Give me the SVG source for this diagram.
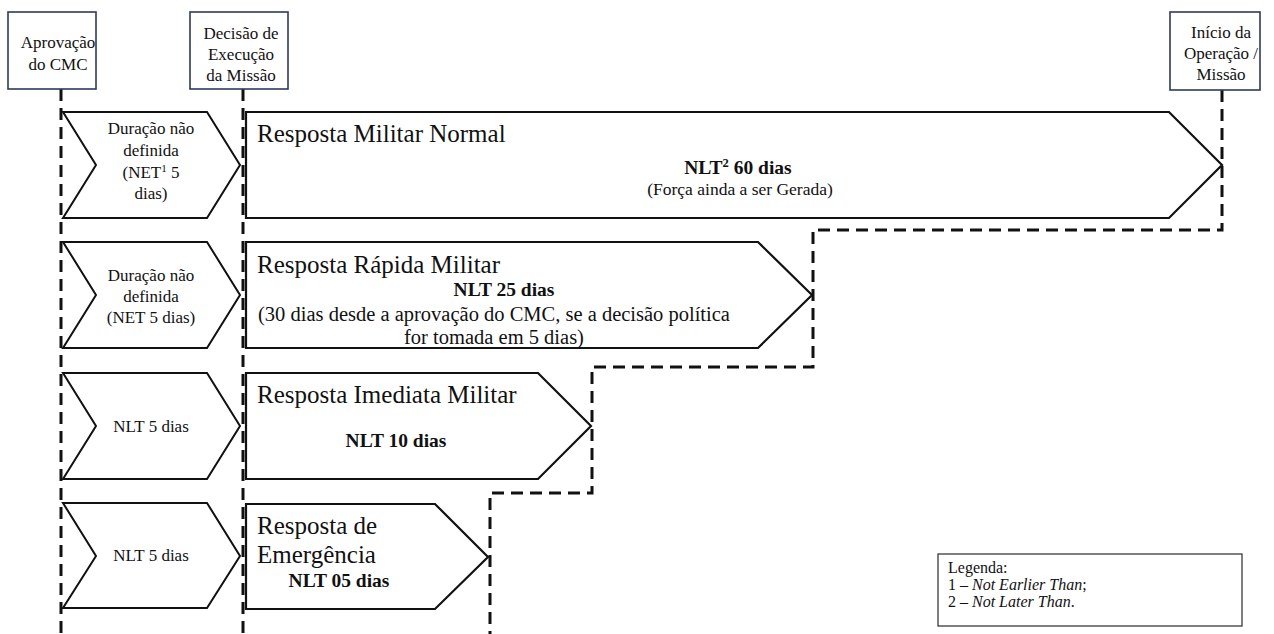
<svg xmlns="http://www.w3.org/2000/svg" width="1274" height="634" viewBox="0 0 1274 634">
<style>
  text { font-family: "Liberation Serif", "DejaVu Serif", serif; fill: #111; }
  .lbl { font-size: 17px; text-anchor: middle; }
  .chev { fill: #fff; stroke: #111; stroke-width: 2; stroke-linejoin: miter; }
  .arrow { fill: #fff; stroke: #111; stroke-width: 2.2; stroke-linejoin: miter; }
  .mbox { fill: #fff; stroke: #2e3a5c; stroke-width: 1.6; }
  .dash { fill: none; stroke: #111; stroke-width: 3; stroke-dasharray: 12 7; }
  .title { font-size: 25px; }
  .bold { font-size: 19.5px; font-weight: bold; text-anchor: middle; }
  .desc { font-size: 20.5px; text-anchor: middle; }
  .leg { font-size: 16px; }
</style>

<g id="connectors">
  <line class="dash" x1="61" y1="89" x2="61" y2="634"/>
  <line class="dash" x1="243" y1="89" x2="243" y2="634"/>
  <polyline class="dash" points="1222,90 1222,230 813,230 813,367 592,367 592,493 490,493 490,634"/>
</g>

<g font-family="Liberation Serif, DejaVu Serif, serif">
<g id="marco-aprovacao">
  <rect class="mbox" x="8" y="12" width="88" height="77"/>
  <text class="lbl" x="58" y="48">Aprovação</text>
  <text class="lbl" x="58" y="70">do CMC</text>
</g>
<g id="marco-decisao">
  <rect class="mbox" x="190" y="12" width="98" height="77"/>
  <text class="lbl" x="241" y="39">Decisão de</text>
  <text class="lbl" x="241" y="60">Execução</text>
  <text class="lbl" x="241" y="81">da Missão</text>
</g>
<g id="marco-inicio">
  <rect class="mbox" x="1170" y="12" width="90" height="78"/>
  <text class="lbl" x="1221" y="38">Início da</text>
  <text class="lbl" x="1221" y="59">Operação /</text>
  <text class="lbl" x="1221" y="80">Missão</text>
</g>

<g id="fase1-normal">
  <path class="chev" d="M63,112 L207,112 L240,165 L207,218 L63,218 L96,165 Z"/>
  <text class="lbl" x="151" y="134">Duração não</text>
  <text class="lbl" x="151" y="156">definida</text>
  <text class="lbl" x="151" y="178">(NET<tspan font-size="11" dy="-6">1</tspan><tspan dy="6"> 5</tspan></text>
  <text class="lbl" x="151" y="199">dias)</text>
</g>
<g id="resposta-normal">
  <path class="arrow" d="M246,112 L1169,112 L1222,165 L1169,218 L246,218 Z"/>
  <text class="title" x="257" y="142">Resposta Militar Normal</text>
  <text class="bold" x="738" y="174">NLT<tspan font-size="12.5" dy="-7">2</tspan><tspan dy="7"> 60 dias</tspan></text>
  <text class="desc" x="740" y="195" style="font-size:17.5px">(Força ainda a ser Gerada)</text>
</g>

<g id="fase1-rapida">
  <path class="chev" d="M63,242 L207,242 L240,295 L207,348 L63,348 L96,295 Z"/>
  <text class="lbl" x="151" y="281">Duração não</text>
  <text class="lbl" x="151" y="302">definida</text>
  <text class="lbl" x="151" y="323">(NET 5 dias)</text>
</g>
<g id="resposta-rapida">
  <path class="arrow" d="M246,242 L758,242 L812,295 L758,348 L246,348 Z"/>
  <text class="title" x="257" y="273">Resposta Rápida Militar</text>
  <text class="bold" x="504" y="296">NLT 25 dias</text>
  <text class="desc" x="494" y="321">(30 dias desde a aprovação do CMC, se a decisão política</text>
  <text class="desc" x="494" y="344">for tomada em 5 dias)</text>
</g>

<g id="fase1-imediata">
  <path class="chev" d="M63,373 L207,373 L240,426 L207,479 L63,479 L96,426 Z"/>
  <text class="lbl" x="151" y="432">NLT 5 dias</text>
</g>
<g id="resposta-imediata">
  <path class="arrow" d="M246,373 L538,373 L591,426 L538,479 L246,479 Z"/>
  <text class="title" x="257" y="403">Resposta Imediata Militar</text>
  <text class="bold" x="396" y="447">NLT 10 dias</text>
</g>

<g id="fase1-emergencia">
  <path class="chev" d="M63,503 L207,503 L240,556 L207,608 L63,608 L96,556 Z"/>
  <text class="lbl" x="151" y="561">NLT 5 dias</text>
</g>
<g id="resposta-emergencia">
  <path class="arrow" d="M246,504 L435,504 L488,557 L435,609 L246,609 Z"/>
  <text class="title" x="257" y="534">Resposta de</text>
  <text class="title" x="257" y="563">Emergência</text>
  <text class="bold" x="339" y="587">NLT 05 dias</text>
</g>

<g id="legenda">
  <rect x="938" y="554" width="304" height="72" fill="#fff" stroke="#3a3a3a" stroke-width="1.3"/>
  <text class="leg" x="948" y="573">Legenda:</text>
  <text class="leg" x="948" y="590">1 – <tspan font-style="italic">Not Earlier Than</tspan>;</text>
  <text class="leg" x="948" y="607">2 – <tspan font-style="italic">Not Later Than</tspan>.</text>
</g>
</g>
</svg>
